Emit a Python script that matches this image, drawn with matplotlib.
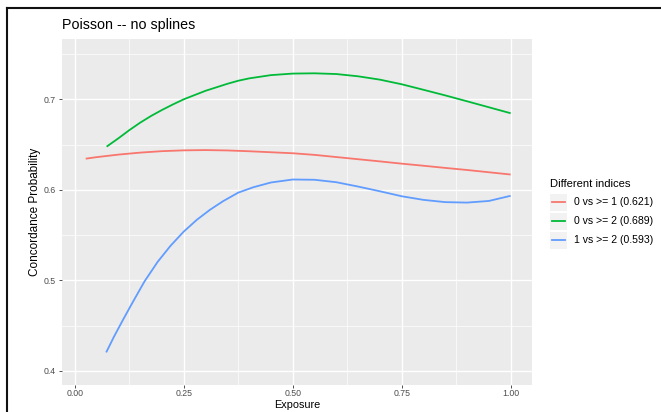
import matplotlib
matplotlib.use("Agg")
import matplotlib.pyplot as plt
from matplotlib.lines import Line2D
from matplotlib.patches import Rectangle

plt.rcParams['font.family'] = ['Liberation Sans', 'DejaVu Sans']

# Curvas
x_rojo = [0.025, 0.05, 0.1, 0.15, 0.2, 0.25, 0.3, 0.35, 0.4, 0.45, 0.5,
          0.55, 0.6, 0.65, 0.7, 0.75, 0.8, 0.85, 0.9, 0.95, 1.0]
y_rojo = [0.6345, 0.6362, 0.639, 0.6412, 0.6428, 0.6437, 0.644, 0.6436, 0.6427, 0.6416, 0.6405,
          0.6387, 0.6363, 0.6339, 0.6315, 0.629, 0.6267, 0.6243, 0.622, 0.6195, 0.617]

x_verde = [0.073, 0.1, 0.125, 0.15, 0.175, 0.2, 0.225, 0.25, 0.3, 0.35, 0.375, 0.4,
           0.45, 0.5, 0.55, 0.6, 0.65, 0.7, 0.75, 0.8, 0.85, 0.9, 0.95, 1.0]
y_verde = [0.6478, 0.657, 0.666, 0.6743, 0.6817, 0.6883, 0.6944, 0.7001, 0.7095, 0.7172, 0.7206, 0.7232,
           0.7268, 0.7285, 0.7288, 0.728, 0.7255, 0.7218, 0.7167, 0.7106, 0.7044, 0.6979, 0.6913, 0.6847]

x_azul = [0.072, 0.09, 0.11, 0.13, 0.16, 0.19, 0.22, 0.25, 0.28, 0.31, 0.34, 0.375, 0.41,
          0.45, 0.5, 0.55, 0.6, 0.65, 0.7, 0.75, 0.8, 0.85, 0.9, 0.95, 1.0]
y_azul = [0.4205, 0.438, 0.456, 0.4735, 0.499, 0.5205, 0.5385, 0.554, 0.567, 0.578, 0.5875, 0.597, 0.603,
          0.6082, 0.6115, 0.6112, 0.6085, 0.6037, 0.5985, 0.593, 0.589, 0.5865, 0.586, 0.5878, 0.5935]

etiquetas = ['0 vs >= 1 (0.621)', '0 vs >= 2 (0.689)', '1 vs >= 2 (0.593)']
colores = ['#F8766D', '#00BA38', '#619CFF']

x_ticks = [0.0, 0.25, 0.5, 0.75, 1.0]
x_tick_labels = ['0.00', '0.25', '0.50', '0.75', '1.00']
y_ticks = [0.4, 0.5, 0.6, 0.7]
y_tick_labels = ['0.4', '0.5', '0.6', '0.7']

W, H = 661, 412
fig = plt.figure(figsize=(W / 100, H / 100), dpi=100)
fig.patch.set_facecolor('white')

# Panel
izq, der, arriba, abajo = 62, 532, 39, 385
ax = fig.add_axes([izq / W, 1 - abajo / H, (der - izq) / W, (abajo - arriba) / H])
ax.set_facecolor('#EBEBEB')
for s in ax.spines.values():
    s.set_visible(False)

ax.set_xlim(-0.0294, 1.049)
ax.set_ylim(0.3845, 0.7667)

ax.set_xticks(x_ticks)
ax.set_xticklabels(x_tick_labels)
ax.set_yticks(y_ticks)
ax.set_yticklabels(y_tick_labels)
ax.set_xticks([0.125, 0.375, 0.625, 0.875], minor=True)
ax.set_yticks([0.45, 0.55, 0.65, 0.75], minor=True)
ax.grid(which='major', color='white', linewidth=1.0)
ax.grid(which='minor', color='white', linewidth=0.5)
ax.set_axisbelow(True)
ax.tick_params(which='major', length=2.2, width=0.6, color='#333333',
               labelsize=6.3, labelcolor='#4D4D4D', pad=2.5)
ax.tick_params(axis='x', which='major', pad=1.0)
ax.tick_params(which='minor', length=0)

for xs, ys, c in zip([x_rojo, x_verde, x_azul], [y_rojo, y_verde, y_azul], colores):
    ax.plot(xs, ys, color=c, linewidth=1.3, solid_capstyle='butt', solid_joinstyle='round')

ax.set_title('Poisson -- no splines', loc='left', fontsize=10.3, pad=7)
ax.set_xlabel('Exposure', fontsize=7.8)
ax.set_ylabel('Concordance Probability', fontsize=8.5)
ax.xaxis.set_label_coords(0.5, -(399.5 - abajo) / (abajo - arriba))
ax.xaxis.label.set_va('top')
ax.yaxis.set_label_coords(-(izq - 35) / (der - izq), 0.5)
ax.yaxis.label.set_va('center')

# Leyenda a mano, estilo ggplot
fig.text(550 / W, 1 - 184 / H, 'Different indices', fontsize=8.1, va='center', ha='left')
for i, (lab, c) in enumerate(zip(etiquetas, colores)):
    yc = [202.5, 221, 240][i]
    fig.patches.append(Rectangle((550 / W, 1 - (yc + 8.5) / H), 17 / W, 17 / H,
                                 transform=fig.transFigure, facecolor='#F2F2F2',
                                 edgecolor='none'))
    fig.lines.append(Line2D([552 / W, 565 / W], [1 - yc / H, 1 - yc / H],
                            transform=fig.transFigure, color=c, linewidth=1.3))
    fig.text(574 / W, 1 - yc / H, lab, fontsize=7.6, va='center', ha='left')

# Marco negro de la captura
fig.lines.append(Line2D([7 / W, 1.0], [1 - 8 / H, 1 - 8 / H], transform=fig.transFigure,
                        color='#111111', linewidth=1.5))
fig.lines.append(Line2D([7 / W, 7 / W], [1 - 8 / H, 0.0], transform=fig.transFigure,
                        color='#111111', linewidth=1.5))

fig.savefig('out.png', dpi=100)
